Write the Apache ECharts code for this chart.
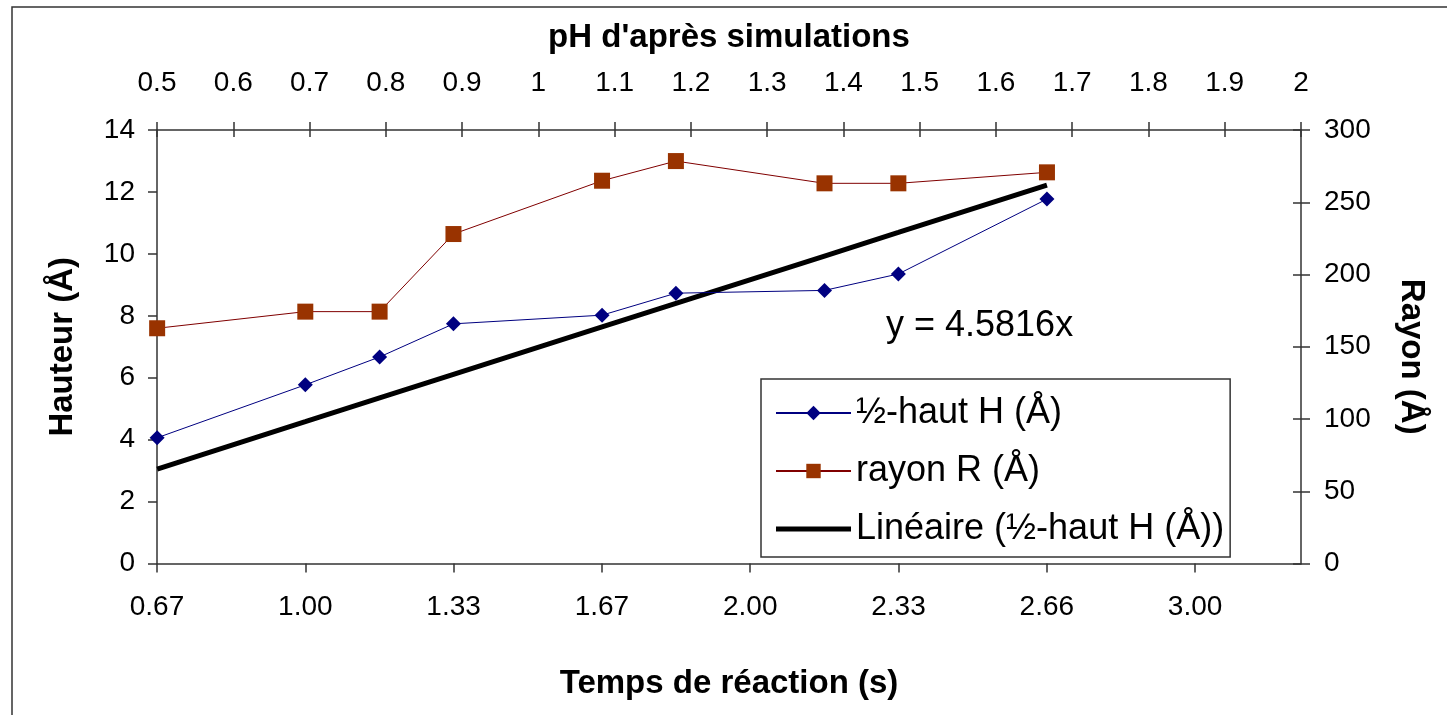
<!DOCTYPE html>
<html><head><meta charset="utf-8">
<script src="https://cdn.jsdelivr.net/npm/echarts@6/dist/echarts.min.js"></script>
<style>html,body{margin:0;padding:0;background:#fff}#c{width:1447px;height:715px}</style>
</head><body><div id="c"></div>
<script>
// ---- data ----
const timeValues = [0.667, 1.0, 1.167, 1.333, 1.667, 1.833, 2.167, 2.333, 2.667];
const halfHeightH = [4.06, 5.77, 6.67, 7.74, 8.02, 8.73, 8.82, 9.35, 11.77];
const radiusR = [162.8, 174.3, 174.3, 228.0, 264.9, 278.5, 263.1, 263.1, 270.7];
const trendH = [3.05, 4.58, 5.35, 6.11, 7.64, 8.40, 9.93, 10.69, 12.22];
const timeTickValues = [2/3, 1, 4/3, 5/3, 2, 7/3, 8/3, 3];
const timeTickLabels = ['0.67', '1.00', '1.33', '1.67', '2.00', '2.33', '2.66', '3.00'];
const seriesNames = ['½-haut H (Å)', 'rayon R (Å)', 'Linéaire (½-haut H (Å))'];
const equationText = 'y = 4.5816x';
const axisTitles = { bottom: 'Temps de réaction (s)', top: "pH d'après simulations", left: 'Hauteur (Å)', right: 'Rayon (Å)' };

const FONT = "'Liberation Sans', Arial, sans-serif";
const AXC = '#333';
const pairs = (xs, ys) => xs.map((x, i) => [x, ys[i]]);
const lineSt = { color: AXC, width: 1.5 };
const lbl = (extra) => Object.assign({ color: '#000', fontSize: 28, fontFamily: FONT }, extra);
const nameSt = (extra) => Object.assign({ color: '#000', fontSize: 33, fontWeight: 'bold', fontFamily: FONT }, extra);
const gridBox = { left: 157, right: 146, top: 130, bottom: 151.5 };

const chart = echarts.init(document.getElementById('c'), null, { renderer: 'canvas' });
chart.setOption({
  animation: false,
  backgroundColor: '#fff',
  textStyle: { fontFamily: FONT },
  grid: [Object.assign({}, gridBox), Object.assign({ show: false }, gridBox)],
  xAxis: [
    {
      type: 'value', gridIndex: 0, position: 'bottom', min: 2/3, max: 3.238,
      axisLine: { onZero: false, lineStyle: lineSt },
      axisTick: { show: true, length: 9, customValues: timeTickValues, lineStyle: lineSt },
      axisLabel: lbl({ customValues: timeTickValues, margin: 30,
        formatter: v => { const i = timeTickValues.findIndex(t => Math.abs(t - v) < 1e-6); return i >= 0 ? timeTickLabels[i] : ''; } }),
      splitLine: { show: false },
      name: axisTitles.bottom, nameLocation: 'middle', nameGap: 104, nameTextStyle: nameSt({})
    },
    {
      type: 'value', gridIndex: 0, position: 'top', min: 0.5, max: 2, interval: 0.1,
      axisLine: { onZero: false, lineStyle: lineSt },
      axisTick: { show: true, length: 8, lineStyle: lineSt },
      axisLabel: lbl({ margin: 33 }),
      splitLine: { show: false },
      name: axisTitles.top, nameLocation: 'middle', nameGap: 76, nameTextStyle: nameSt({})
    },
    {
      type: 'value', gridIndex: 1, position: 'top', min: 0.5, max: 2, interval: 0.1,
      axisLine: { show: false, onZero: false },
      axisTick: { show: true, inside: true, length: 7, lineStyle: lineSt },
      axisLabel: { show: false }, splitLine: { show: false }
    }
  ],
  yAxis: [
    {
      type: 'value', gridIndex: 0, position: 'left', min: 0, max: 14, interval: 2,
      axisLine: { show: true, onZero: false, lineStyle: lineSt },
      axisTick: { show: true, length: 9, lineStyle: lineSt },
      axisLabel: lbl({ margin: 22 }),
      splitLine: { show: false },
      name: axisTitles.left, nameLocation: 'middle', nameGap: 78, nameTextStyle: nameSt({})
    },
    {
      type: 'value', gridIndex: 0, position: 'right', min: 0, max: 300, interval: 50,
      axisLine: { show: true, onZero: false, lineStyle: lineSt },
      axisTick: { show: true, length: 9, lineStyle: lineSt },
      axisLabel: lbl({ margin: 23 }),
      splitLine: { show: false },
      name: axisTitles.right, nameLocation: 'middle', nameGap: 94, nameRotate: -90,
      nameTextStyle: nameSt({ padding: [0, 0, 0, 20] })
    },
    {
      type: 'value', gridIndex: 1, position: 'right', min: 0, max: 300, interval: 50,
      axisLine: { show: false, onZero: false },
      axisTick: { show: true, inside: true, length: 8, lineStyle: lineSt },
      axisLabel: { show: false }, splitLine: { show: false }
    }
  ],
  legend: {
    orient: 'vertical', left: 761, top: 379,
    padding: [16, 6, 10, 14], itemGap: 22, itemWidth: 75, itemHeight: 18,
    backgroundColor: '#fff', borderColor: AXC, borderWidth: 1.5, borderRadius: 0,
    selectedMode: false,
    textStyle: { fontSize: 36, color: '#000', fontFamily: FONT },
    data: [
      { name: seriesNames[0] },
      { name: seriesNames[1] },
      { name: seriesNames[2], icon: 'path://M0 0H75V5H0Z' }
    ]
  },
  series: [
    {
      name: seriesNames[2], type: 'line', xAxisIndex: 0, yAxisIndex: 0,
      data: pairs(timeValues, trendH), symbol: 'none', z: 1,
      lineStyle: { color: '#000', width: 5 }, itemStyle: { color: '#000' }
    },
    {
      name: seriesNames[0], type: 'line', xAxisIndex: 0, yAxisIndex: 0,
      data: pairs(timeValues, halfHeightH), symbol: 'diamond', symbolSize: 15, z: 3,
      lineStyle: { color: '#000080', width: 1 }, itemStyle: { color: '#000080' }
    },
    {
      name: seriesNames[1], type: 'line', xAxisIndex: 0, yAxisIndex: 1,
      data: pairs(timeValues, radiusR), symbol: 'rect', symbolSize: 16, z: 3,
      lineStyle: { color: '#800000', width: 1 }, itemStyle: { color: '#993300' }
    }
  ],
  graphic: [
    { type: 'rect', silent: true, z: -1, shape: { x: 12, y: 7, width: 1500, height: 800 },
      style: { fill: 'none', stroke: AXC, lineWidth: 1.5 } },
    { type: 'text', silent: true, x: 886, y: 326,
      style: { text: equationText, font: "36px 'Liberation Sans', Arial, sans-serif", fill: '#000', verticalAlign: 'middle', align: 'left' } }
  ]
});
</script></body></html>
